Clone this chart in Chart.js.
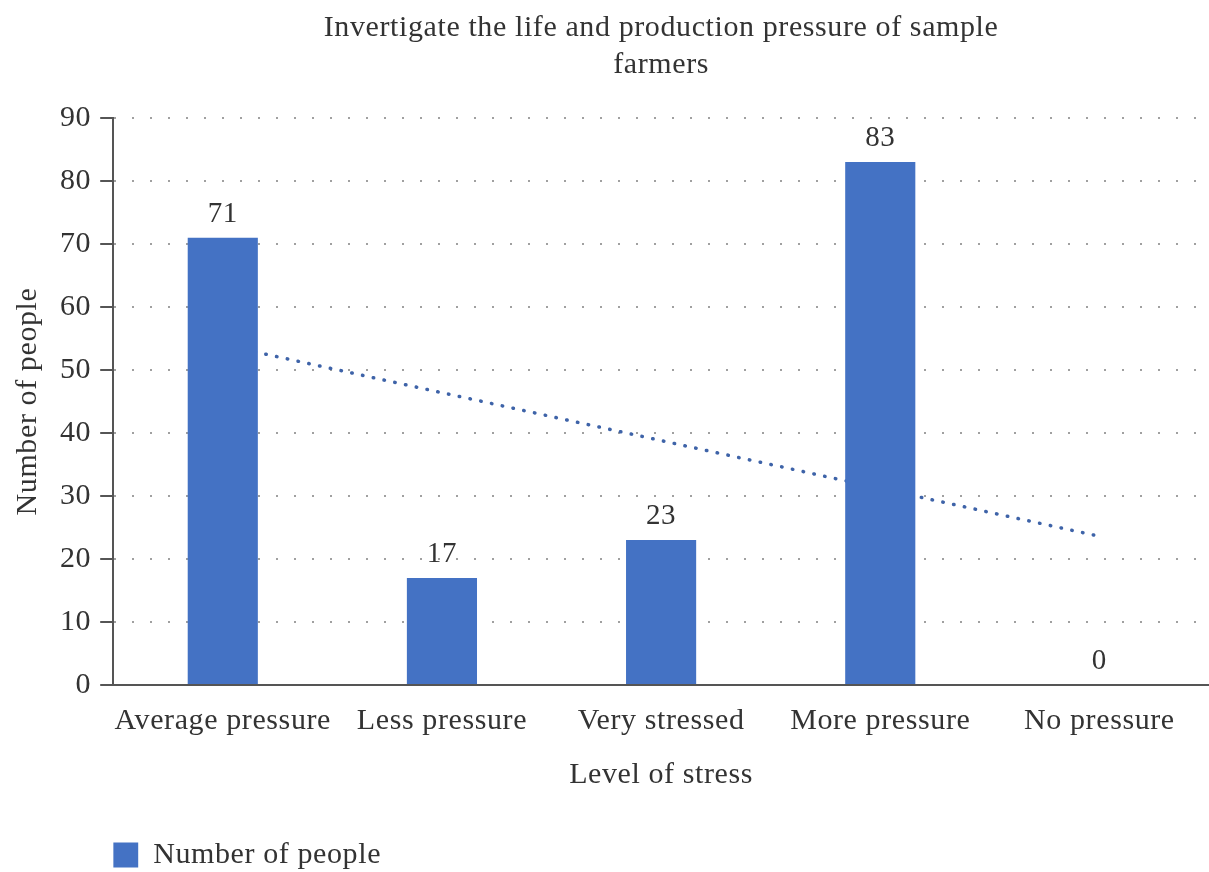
<!DOCTYPE html>
<html>
<head>
<meta charset="utf-8">
<script src="https://cdn.jsdelivr.net/npm/chart.js@4.4.0/dist/chart.umd.min.js"></script>
<style>
html,body{margin:0;padding:0;background:#fff;}
#wrap{width:1209px;height:872px;}
</style>
</head>
<body>
<div id="wrap"><canvas id="c" width="1209" height="872"></canvas></div>
<script>
const categories = ["Average pressure", "Less pressure", "Very stressed", "More pressure", "No pressure"];
const peopleValues = [71, 17, 23, 83, 0];
const trendValues = [54, 46.4, 38.8, 31.2, 23.6];
const titleLines = ["Invertigate the life and production pressure of sample", "farmers"];
const yTitle = "Number of people";
const xTitle = "Level of stress";
const seriesName = "Number of people";

const FONT = "'Liberation Serif', 'DejaVu Serif', serif";
const TEXT = "#333333";

const spacing = {
  id: 'spacing',
  beforeInit(chart) { chart.ctx.letterSpacing = '0.6px'; },
  beforeUpdate(chart) { chart.ctx.letterSpacing = '0.6px'; },
  beforeDraw(chart) { chart.ctx.letterSpacing = '0.6px'; }
};

const valueLabels = {
  id: 'valueLabels',
  afterDatasetsDraw(chart) {
    const ctx = chart.ctx;
    const meta = chart.getDatasetMeta(0);
    ctx.save();
    ctx.font = "29px " + FONT;
    ctx.fillStyle = TEXT;
    ctx.textAlign = 'center';
    ctx.textBaseline = 'alphabetic';
    meta.data.forEach((bar, i) => {
      ctx.fillText(String(peopleValues[i]), bar.x, bar.y - 16);
    });
    ctx.restore();
  }
};

new Chart(document.getElementById('c'), {
  type: 'bar',
  data: {
    labels: categories,
    datasets: [
      {
        type: 'bar',
        label: seriesName,
        data: peopleValues,
        backgroundColor: '#4472C4',
        barPercentage: 1,
        categoryPercentage: 0.32,
        order: 1
      },
      {
        type: 'line',
        label: 'Trend',
        data: trendValues,
        borderColor: '#3E63A8',
        borderWidth: 3.5,
        borderDash: [0.5, 10.5],
        borderCapStyle: 'round',
        pointRadius: 0,
        fill: false,
        order: 2
      }
    ]
  },
  options: {
    responsive: false,
    animation: false,
    layout: { padding: { top: 9, right: 0, left: 10, bottom: -8 } },
    plugins: {
      title: {
        display: true,
        text: titleLines,
        fullSize: false,
        color: TEXT,
        font: { family: FONT, size: 30, weight: 'normal', lineHeight: 1.25 },
        padding: { top: 0, bottom: 34 }
      },
      legend: {
        display: true,
        position: 'bottom',
        align: 'start',
        fullSize: false,
        labels: {
          filter: (item) => item.datasetIndex === 0,
          boxWidth: 25,
          boxHeight: 25,
          color: TEXT,
          font: { family: FONT, size: 30 },
          padding: 0
        }
      },
      tooltip: { enabled: false }
    },
    scales: {
      x: {
        grid: { display: false, drawTicks: false },
        border: { display: true, color: '#555555', width: 2 },
        ticks: { color: TEXT, font: { family: FONT, size: 30 }, padding: 18, maxRotation: 0, autoSkip: false },
        title: { display: true, text: xTitle, color: TEXT, font: { family: FONT, size: 30 }, padding: { top: 0, bottom: 47 } }
      },
      y: {
        min: 0,
        max: 90,
        ticks: { stepSize: 10, color: TEXT, font: { family: FONT, size: 30 }, padding: 9 },
        grid: {
          color: '#a0a0a0',
          lineWidth: 2,
          tickLength: 13,
          tickColor: '#555555',
          tickWidth: 2,
          tickBorderDash: []
        },
        border: { display: true, color: '#555555', width: 2, dash: [2, 16] },
        title: { display: true, text: yTitle, color: TEXT, font: { family: FONT, size: 30 }, padding: { top: 0, bottom: 5 } }
      }
    }
  },
  plugins: [spacing, valueLabels]
});
</script>
</body>
</html>
